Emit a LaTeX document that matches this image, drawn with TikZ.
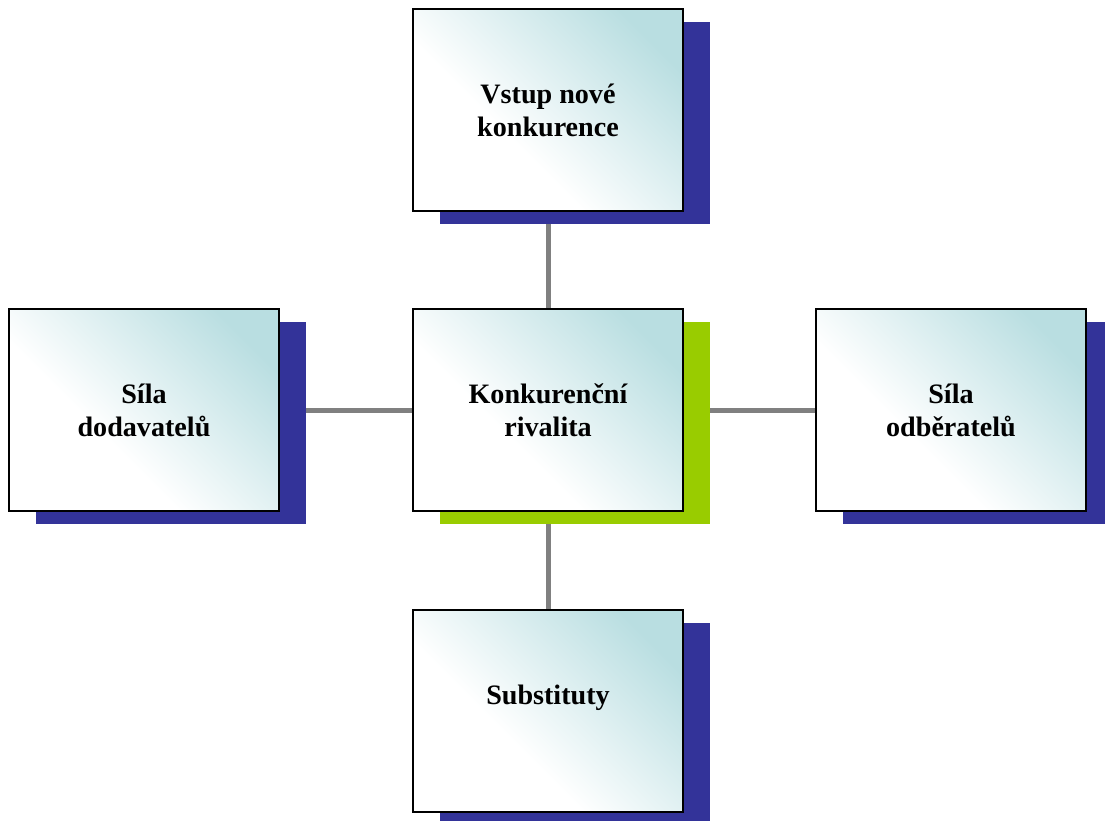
\documentclass[tikz,border=0pt]{standalone}
\usepackage{fontspec}
\setmainfont{Liberation Serif}
\usetikzlibrary{positioning,shadows,backgrounds}
\definecolor{boxteal}{RGB}{185,222,225}
\definecolor{shadowblue}{RGB}{51,51,153}
\definecolor{shadowgreen}{RGB}{153,204,0}
\definecolor{linkgray}{RGB}{128,128,128}
\pgfdeclareverticalshading{forceshade}{100bp}{color(0bp)=(white); color(40bp)=(white);
  color(76bp)=(boxteal); color(100bp)=(boxteal)}

\begin{document}
\begin{tikzpicture}[force/.style={draw=black,line width=1.1pt,shade,shading=forceshade,
   shading angle=-45,minimum width=5.4cm,minimum height=4.04cm,inner sep=0pt,outer sep=0pt,
   align=center,font=\bfseries\fontsize{16}{18.8}\selectfont,
   general shadow={fill=#1,shadow xshift=0.53cm,shadow yshift=-0.25cm}},
  force/.default=shadowblue,
  link/.style={linkgray,line width=0.1cm}]
 %\tikzstyle{every shadow}=[opacity=.8]
 \useasboundingbox (0,0) rectangle (22.1,-16.42);

 \node[force=shadowgreen] (rival)  at (10.96,-8.2)      {Konkurenční\\rivalita};
 \node[force] (entry)    [above=1.96cm of rival] {Vstup nové\\konkurence};
 \node[force] (supplier) [left=2.68cm of rival]  {Síla\\dodavatelů};
 \node[force] (buyer)    [right=2.66cm of rival] {Síla\\odběratelů};
 \node[force,text height=0.4cm,text depth=0.67cm]
              (subst)    [below=1.98cm of rival] {Substituty};

 \begin{pgfonlayer}{background}
  \path[link] (rival) edge (entry)
                      edge (supplier)
                      edge (buyer)
                      edge (subst);
 \end{pgfonlayer}
\end{tikzpicture}
\end{document}
